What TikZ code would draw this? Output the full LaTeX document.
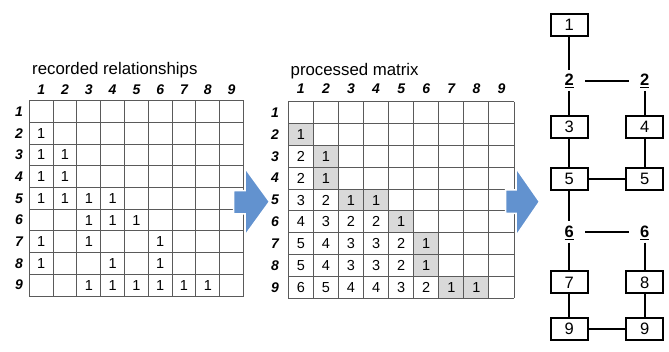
\documentclass[tikz,border=0pt]{standalone}
\usepackage{fontspec}
\setmainfont{Liberation Sans}
\definecolor{arrowblue}{RGB}{98,146,207}
\definecolor{gridcol}{RGB}{90,90,90}
\definecolor{shadecol}{RGB}{217,217,217}
\begin{document}
\begin{tikzpicture}[x=1pt,y=-1pt,
  gridline/.style={draw=gridcol,line width=0.9pt},
  cellnum/.style={font=\fontsize{14.5}{14.5}\selectfont,inner sep=0pt},
  hdr/.style={font=\fontsize{14}{14}\selectfont\bfseries\itshape,inner sep=0pt},
  ttl/.style={font=\fontsize{16.8}{16.8}\selectfont,inner sep=0pt,anchor=west},
  bigarrow/.style={fill=arrowblue,draw=white,line width=1.5pt,line join=miter},
  treebox/.style={draw=black,line width=2pt,minimum width=37pt,minimum height=22pt,inner sep=0pt,font=\fontsize{16.5}{16.5}\selectfont},
  treelbl/.style={inner sep=1pt,font=\fontsize{16.5}{16.5}\selectfont\bfseries},
  conn/.style={draw=black,line width=2pt}]
\useasboundingbox (0,0) rectangle (669,352);
\fill[white] (0,0) rectangle (669,352);

% ---------- left matrix ----------
\def\lx{29.3}\def\ly{100.7}\def\lw{23.8}\def\lh{21.7}
\node[ttl] (ltitle) at (32,70) {recorded relationships};
\foreach \i in {0,...,9}{
  \draw[gridline] (\lx+\i*\lw,\ly) -- (\lx+\i*\lw,\ly+9*\lh);
  \draw[gridline] (\lx,\ly+\i*\lh) -- (\lx+9*\lw,\ly+\i*\lh);
}
\foreach \i in {1,...,9}{
  \node[hdr] (lch\i) at (\lx+\i*\lw-0.5*\lw,90) {\i};
  \node[hdr] (lrh\i) at (19,\ly+\i*\lh-0.5*\lh) {\i};
}
\foreach \r/\c in {2/1,3/1,3/2,4/1,4/2,5/1,5/2,5/3,5/4,6/3,6/4,6/5,7/1,7/3,7/6,8/1,8/4,8/6,9/3,9/4,9/5,9/6,9/7,9/8}{
  \node[cellnum] (L-\r-\c) at (\lx+\c*\lw-0.5*\lw,\ly+\r*\lh-0.5*\lh) {1};
}

% ---------- middle matrix ----------
\def\mx{288.3}\def\my{101.7}\def\mw{25.08}\def\mh{21.85}
\node[ttl] (mtitle) at (290.5,71) {processed matrix};
\foreach \r/\c in {2/1,3/2,4/2,5/3,5/4,6/5,7/6,8/6,9/7,9/8}{
  \fill[shadecol] (\mx+\c*\mw-\mw,\my+\r*\mh-\mh) rectangle (\mx+\c*\mw,\my+\r*\mh);
}
\foreach \i in {0,...,9}{
  \draw[gridline] (\mx+\i*\mw,\my) -- (\mx+\i*\mw,\my+9*\mh);
  \draw[gridline] (\mx,\my+\i*\mh) -- (\mx+9*\mw,\my+\i*\mh);
}
\foreach \i in {1,...,9}{
  \node[hdr] (mch\i) at (\mx+\i*\mw-0.5*\mw,89) {\i};
  \node[hdr] (mrh\i) at (275,\my+\i*\mh-0.5*\mh) {\i};
}
\foreach \r/\c/\v in {2/1/1,3/1/2,3/2/1,4/1/2,4/2/1,5/1/3,5/2/2,5/3/1,5/4/1,
  6/1/4,6/2/3,6/3/2,6/4/2,6/5/1,7/1/5,7/2/4,7/3/3,7/4/3,7/5/2,7/6/1,
  8/1/5,8/2/4,8/3/3,8/4/3,8/5/2,8/6/1,9/1/6,9/2/5,9/3/4,9/4/4,9/5/3,9/6/2,9/7/1,9/8/1}{
  \node[cellnum] (M-\r-\c) at (\mx+\c*\mw-0.5*\mw,\my+\r*\mh-0.5*\mh) {\v};
}

% ---------- arrows ----------
\path[bigarrow] (233.5,190.7) -- (245,190.7) -- (245,168) -- (269.5,201.7) -- (245,235.5) -- (245,214) -- (233.5,214) -- cycle;
\path[bigarrow] (505.5,190) -- (516,190) -- (516,168) -- (539.5,201.7) -- (516,236) -- (516,213.3) -- (505.5,213.3) -- cycle;

% ---------- tree ----------
\node[treebox] (t1) at (569.3,25) {1};
\node[treelbl] (l2a) at (569.3,81) {\underline{2}};
\node[treelbl] (l2b) at (644.7,81) {\underline{2}};
\node[treebox] (t3) at (569.3,127) {3};
\node[treebox] (t4) at (644.7,127) {4};
\node[treebox] (t5a) at (569.3,179) {5};
\node[treebox] (t5b) at (644.7,179) {5};
\node[treelbl] (l6a) at (569.3,232.5) {\underline{6}};
\node[treelbl] (l6b) at (644.7,232.5) {\underline{6}};
\node[treebox] (t7) at (569.3,282.5) {7};
\node[treebox] (t8) at (644.7,282.5) {8};
\node[treebox] (t9a) at (569.3,329) {9};
\node[treebox] (t9b) at (644.7,329) {9};

\draw[conn,shorten >=3pt] (t1.south) -- (l2a.north);
\draw[conn,shorten <=2pt] (l2a.south) -- (t3.north);
\draw[conn,shorten <=2pt] (l2b.south) -- (t4.north);
\draw[conn,shorten <=10pt,shorten >=10pt] (l2a.east) -- (l2b.west);
\draw[conn] (t3) -- (t5a);
\draw[conn] (t4) -- (t5b);
\draw[conn] (t5a) -- (t5b);
\draw[conn,shorten >=3pt] (t5a.south) -- (l6a.north);
\draw[conn,shorten <=2pt] (l6a.south) -- (t7.north);
\draw[conn,shorten <=2pt] (l6b.south) -- (t8.north);
\draw[conn,shorten <=10pt,shorten >=10pt] (l6a.east) -- (l6b.west);
\draw[conn] (t7) -- (t9a);
\draw[conn] (t8) -- (t9b);
\draw[conn] (t9a) -- (t9b);
\end{tikzpicture}
\end{document}
